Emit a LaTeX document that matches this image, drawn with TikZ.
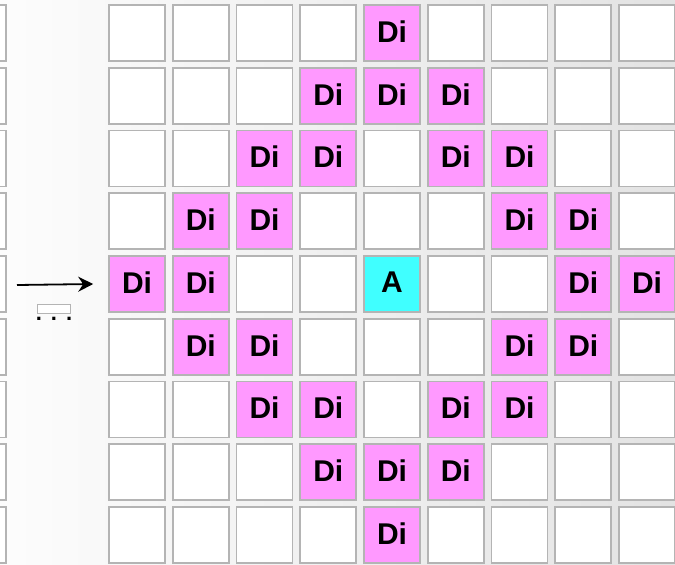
\documentclass[tikz,border=0pt]{standalone}
\usepackage{fontspec}
\setmainfont{Liberation Sans}
\usepackage{xcolor}
\usetikzlibrary{arrows.meta}
\usetikzlibrary{positioning}

\definecolor{dipink}{RGB}{255,153,255}
\definecolor{acyan}{RGB}{64,255,255}
\definecolor{cellline}{RGB}{180,180,180}

\begin{document}
\begin{tikzpicture}[x=1pt, y=-1pt,
    cell/.style={draw=cellline, line width=1.6pt, fill=white,
        minimum width=56pt, minimum height=56pt, inner sep=0pt,
        text depth=3pt, font=\fontsize{30}{30}\selectfont\bfseries},
    di/.style={cell, fill=dipink},
    atom/.style={cell, fill=acyan}]
    \useasboundingbox (0,0) rectangle (675,565);
    \shade[left color=gray!2, right color=gray!22] (0,0) rectangle (675,565);
    % cut-off column on the left
    \foreach \r in {1,...,9} {
        \node[cell] (l-\r) at (-22, {33 + 62.75*(\r-1)}) {};
    }
    % lattice: A in the middle, Di where |dr|+|dc| is 3 or 4
    \foreach \r in {1,...,9} {
        \foreach \c in {1,...,9} {
            \pgfmathtruncatemacro{\dist}{abs(\r-5)+abs(\c-5)}
            \def\kind{cell}\def\txt{}
            \ifnum\dist=0 \def\kind{atom}\def\txt{A}\fi
            \ifnum\dist=3 \def\kind{di}\def\txt{Di}\fi
            \ifnum\dist=4 \def\kind{di}\def\txt{Di}\fi
            \node[\kind] (c-\r-\c) at ({137 + 63.75*(\c-1)}, {33 + 62.75*(\r-1)}) {\txt};
        }
    }
    \coordinate (tail) at (17,285);
    \draw[-{Stealth[length=15pt,width=15pt,inset=5pt]}, line width=1.8pt]
        (tail) -- ([xshift=-15pt]c-5-1.west);
    \node[draw=cellline, line width=1pt, fill=white, minimum width=33pt,
        minimum height=9pt, inner sep=0pt] (more) at (54,309) {};
    \node[below=3pt of more, inner sep=0pt, font=\fontsize{22}{22}\selectfont\bfseries]
        (dots) {.\hspace{9pt}.\hspace{9pt}.};
\end{tikzpicture}
\end{document}
